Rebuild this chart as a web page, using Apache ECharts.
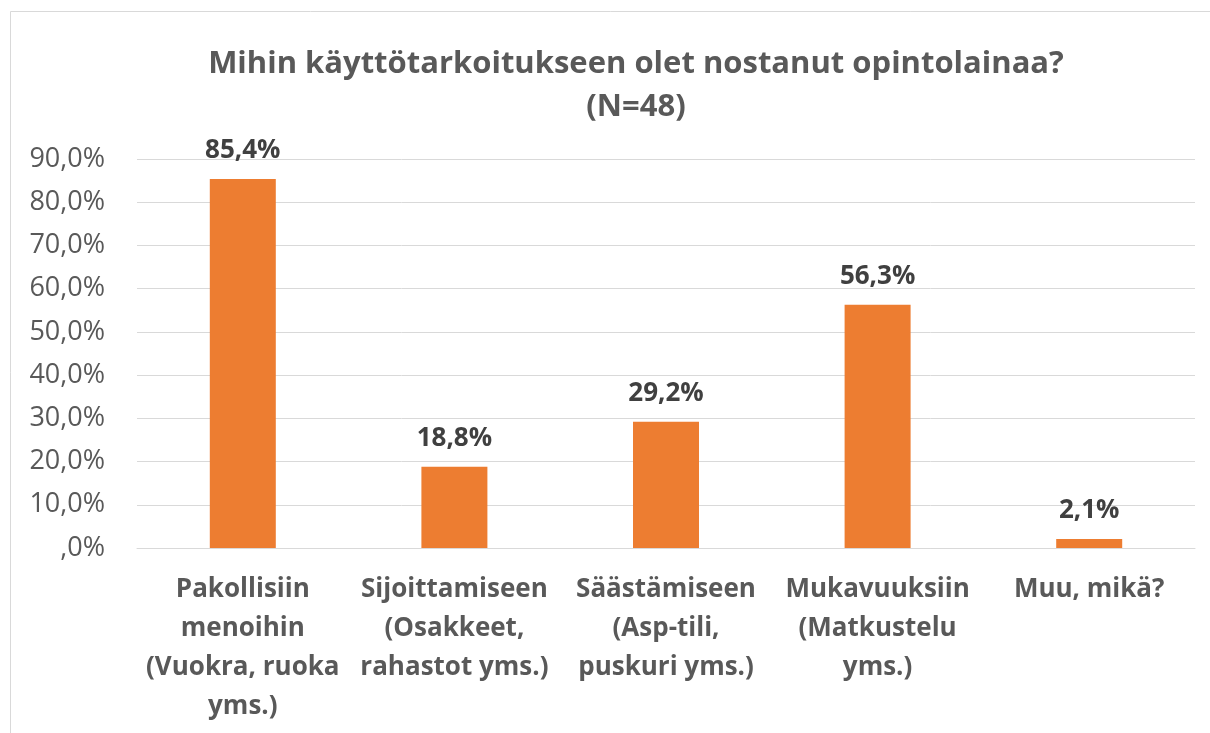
<!DOCTYPE html>
<html><head><meta charset="utf-8">
<script src="https://cdn.jsdelivr.net/npm/echarts@6/dist/echarts.min.js"></script>
<style>html,body{margin:0;padding:0;background:#fff}#c{width:1210px;height:733px}</style>
</head><body><div id="c"></div>
<script>
const categories = [
  "Pakollisiin\nmenoihin\n(Vuokra, ruoka\nyms.)",
  "Sijoittamiseen\n(Osakkeet,\nrahastot yms.)",
  "Säästämiseen\n(Asp-tili,\npuskuri yms.)",
  "Mukavuuksiin\n(Matkustelu\nyms.)",
  "Muu, mikä?"
];
const values = [85.4, 18.8, 29.2, 56.3, 2.1];
const yTicks = [0, 10, 20, 30, 40, 50, 60, 70, 80, 90];
const titleText = "Mihin käyttötarkoitukseen olet nostanut opintolainaa?\n(N=48)";

const chart = echarts.init(document.getElementById('c'));
chart.setOption({
  animation: false,
  backgroundColor: '#fff',
  graphic: [{
    type: 'rect', shape: {x: 10.5, y: 11.5, width: 1230, height: 800},
    style: {fill: 'none', stroke: '#d9d9d9', lineWidth: 1}, silent: true
  }],
  title: {
    text: titleText, left: 631, top: 38, textAlign: 'center',
    textStyle: {fontFamily: 'Open Sans', fontWeight: 'bold', fontSize: 31, color: '#595959', lineHeight: 43}
  },
  grid: {left: 137, right: 15, top: 159, bottom: 185, containLabel: false},
  xAxis: {
    type: 'category', data: categories,
    axisLine: {lineStyle: {color: '#d9d9d9'}},
    axisTick: {show: false},
    axisLabel: {
      interval: 0, margin: 22, fontFamily: 'Open Sans', fontWeight: 'bold',
      fontSize: 26, color: '#595959', lineHeight: 39, verticalAlign: 'top'
    }
  },
  yAxis: {
    type: 'value', min: yTicks[0], max: yTicks[yTicks.length - 1], interval: 10,
    axisLine: {show: false}, axisTick: {show: false},
    splitLine: {lineStyle: {color: '#d9d9d9', width: 1}},
    axisLabel: {
      margin: 32, fontFamily: 'Open Sans', fontSize: 27, color: '#595959',
      formatter: v => v === 0 ? ',0%' : v.toFixed(1).replace('.', ',') + '%'
    }
  },
  series: [{
    type: 'bar', data: values, barWidth: 66,
    itemStyle: {color: '#ED7D31'},
    label: {
      show: true, position: 'top', distance: 15,
      fontFamily: 'Open Sans', fontWeight: 'bold', fontSize: 26, color: '#404040',
      formatter: p => p.value.toFixed(1).replace('.', ',') + '%'
    }
  }]
});
</script></body></html>
